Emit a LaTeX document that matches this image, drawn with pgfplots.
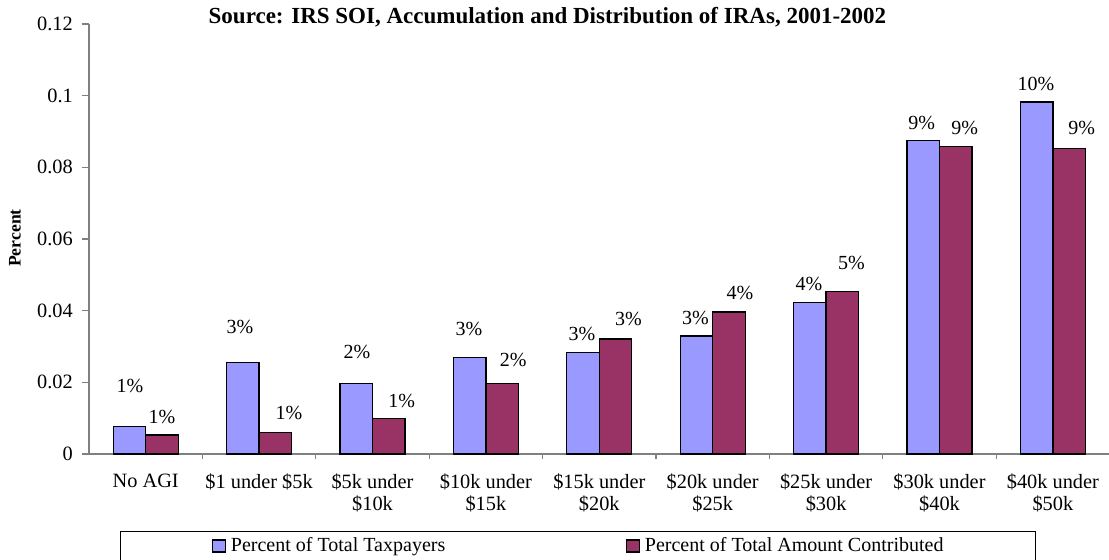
\documentclass[border=0pt]{standalone}
\usepackage{fontspec}
\setmainfont{Liberation Serif}
\usepackage{pgfplots}
\usepackage{pgfplotstable}
\pgfplotsset{compat=1.18}
\definecolor{barblue}{HTML}{9999FF}
\definecolor{barred}{HTML}{993366}
\definecolor{axgray}{HTML}{808080}

% x = category, y = share, dx/dy = label offset from bar top (px), lab = label
\pgfplotstableread{
x y dx dy lab
0 0.0076 0.5 40.7 1
1 0.0256 -3 35 3
2 0.0196 0.7 32 2
3 0.0270 -0.7 28 3
4 0.0283 -1 19 3
5 0.0329 -1 18 3
6 0.0423 -1 18 4
7 0.0874 -1.6 18 9
8 0.0982 -0.7 18 10
}\taxpayers

\pgfplotstableread{
x y dx dy lab
0 0.0053 0 18 1
1 0.0060 13.6 20 1
2 0.0100 13 17 1
3 0.0196 11 24 2
4 0.0321 13 20 3
5 0.0396 11 19 4
6 0.0453 9 29 5
7 0.0858 9 19 9
8 0.0853 12.5 20 9
}\contributed

\begin{document}
\begin{tikzpicture}
\begin{axis}[
  at={(53.4pt,-272.4pt)}, anchor=south west,
  scale only axis, width=612.36pt, height=258pt,
  ymin=0, ymax=0.12, xmin=-0.5, xmax=8.5,
  ytick={0,0.02,0.04,0.06,0.08,0.1,0.12},
  yticklabels={0,0.02,0.04,0.06,0.08,0.1,0.12},
  xtick={0,1,2,3,4,5,6,7,8},
  xticklabels={No AGI,\$1 under \$5k,{\$5k under\\\$10k},{\$10k under\\\$15k},{\$15k under\\\$20k},{\$20k under\\\$25k},{\$25k under\\\$30k},{\$30k under\\\$40k},{\$40k under\\\$50k}},
  minor xtick={0.5,1.5,2.5,3.5,4.5,5.5,6.5,7.5,8.5},
  axis x line*=bottom, axis y line*=left,
  axis line style={draw=axgray, line width=0.7pt},
  tick align=outside,
  major tick length=4.2pt,
  minor tick length=3pt,
  major x tick style={draw=none},
  minor x tick style={draw=axgray, line width=0.7pt},
  ytick style={draw=axgray, line width=0.7pt},
  tick label style={font=\fontsize{12.2}{13.4}\selectfont},
  xticklabel style={align=center, anchor=north, yshift=-4pt},
  yticklabel style={anchor=east, xshift=-2pt},
  every axis title shift=0pt,
  title={Source: IRS SOI, Accumulation and Distribution of IRAs, 2001-2002},
  title style={at={(0.4492,1.0163)}, anchor=center, inner sep=0pt, font=\bfseries\fontsize{13.8}{15}\selectfont},
  ylabel={Percent},
  ylabel style={at={(-0.0725,0.5023)}, anchor=center, inner sep=0pt, font=\bfseries\fontsize{10.6}{12}\selectfont},
  ybar, bar width=0.2866,
  nodes near coords={\pgfplotspointmeta\%},
  point meta=explicit symbolic,
  visualization depends on={\thisrow{dx} \as \dx},
  visualization depends on={\thisrow{dy} \as \dy},
  every node near coord/.append style={anchor=center, inner sep=0pt, font=\fontsize{12}{13.2}\selectfont, text=black, xshift={\dx*0.6pt}, yshift={\dy*0.6pt}},
  legend columns=2,
  legend image code/.code={\draw[#1, line width=0.7pt] (0pt,-3.6pt) rectangle (7.5pt,3.6pt);},
  legend style={at={(0.0304,-0.1784)}, anchor=north west, draw=black, line width=0.7pt,
    inner xsep=55pt, inner ysep=3.8pt, font=\fontsize{12}{13.2}\selectfont,
    nodes={inner sep=0pt},
    /tikz/every odd column/.append style={column sep=3pt},
    /tikz/every even column/.append style={column sep=108.6pt}},
]
\addplot[fill=barblue, draw=black, line width=0.8pt, bar shift=-0.1433]
  table[x=x, y=y, meta=lab] {\taxpayers};
\addlegendentry{Percent of Total Taxpayers}
\addplot[fill=barred, draw=black, line width=0.8pt, bar shift=0.1433]
  table[x=x, y=y, meta=lab] {\contributed};
\addlegendentry{Percent of Total Amount Contributed}
\end{axis}
\pgfresetboundingbox
\path[use as bounding box] (0pt,0pt) rectangle (665.4pt,-335.4pt);
\end{tikzpicture}
\end{document}
